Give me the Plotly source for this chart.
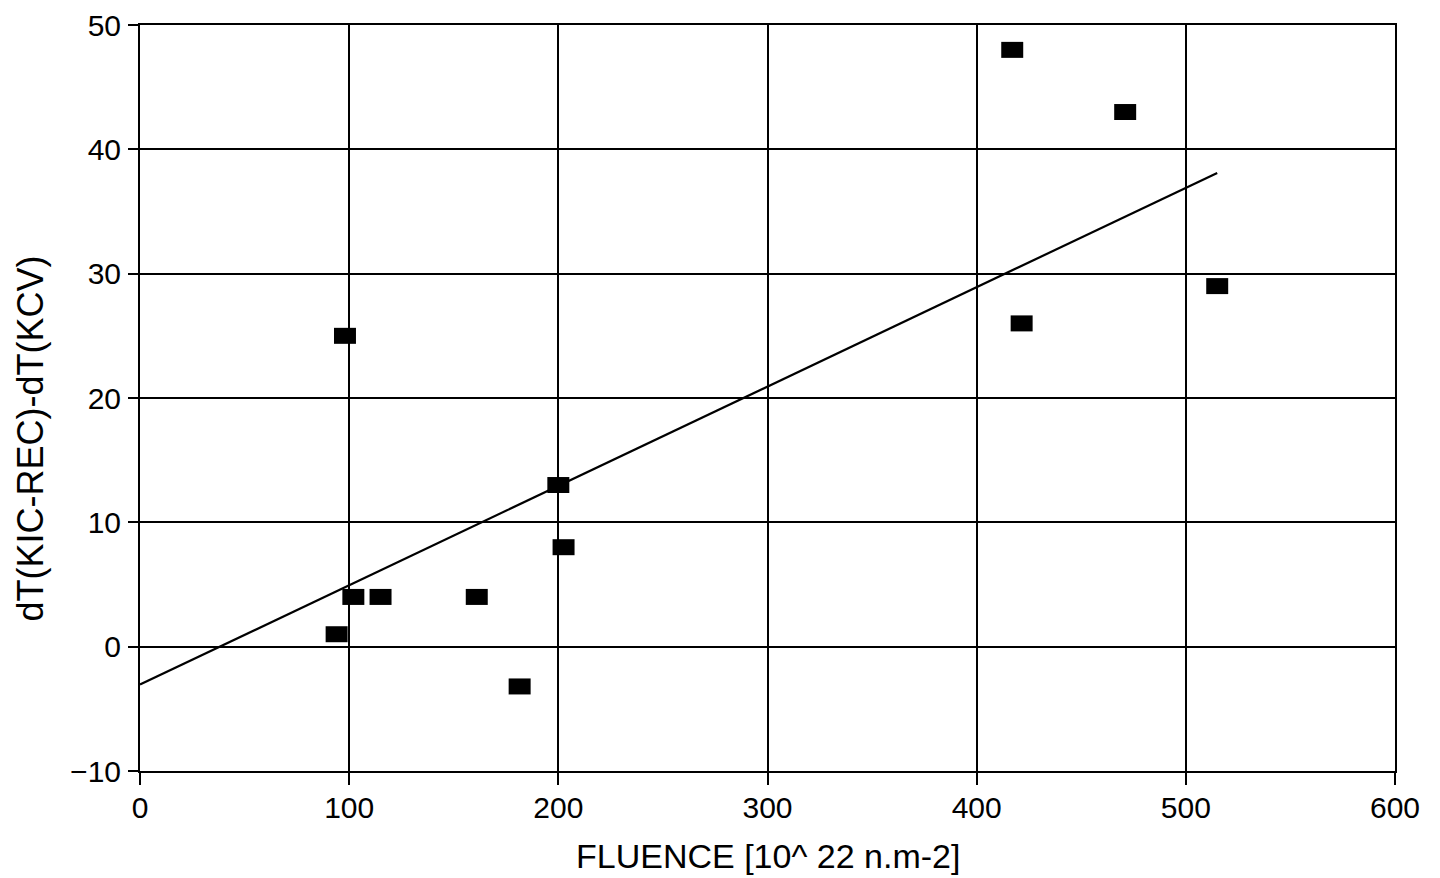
import plotly.graph_objects as go

# Data
fluence = [417, 471, 515, 421.5, 98, 200, 202.5, 102, 115, 161, 94, 181.5]
delta_t = [48, 43, 29, 26, 25, 13, 8, 4, 4, 4, 1, -3.2]

fit_x = [0, 515]
fit_y = [-3.05, 38.1]

x_ticks = [0, 100, 200, 300, 400, 500, 600]
y_ticks = [-10, 0, 10, 20, 30, 40, 50]

x_title = "FLUENCE [10^ 22 n.m-2]"
y_title = "dT(KIC-REC)-dT(KCV)"

FONT = "Liberation Sans, Arial, Helvetica, sans-serif"

fig = go.Figure()

fig.add_trace(go.Scatter(
    x=fit_x, y=fit_y, mode="lines",
    line=dict(color="black", width=2.2),
    showlegend=False, hoverinfo="skip",
))

fig.add_trace(go.Scatter(
    x=fluence, y=delta_t, mode="markers",
    marker=dict(symbol="line-ew", size=15.7, color="black",
                line=dict(color="black", width=16)),
    showlegend=False,
))

axis_common = dict(
    showline=True, linecolor="black", linewidth=2, mirror=True,
    showgrid=True, gridcolor="black", gridwidth=2,
    zeroline=False, automargin=False, ticklabeloverflow="allow",
    ticks="outside", tickcolor="black", tickwidth=2,
    tickfont=dict(family=FONT, size=30, color="black"),
)

fig.update_xaxes(range=[0, 600], tickvals=x_ticks, ticklen=12,
                 ticklabelstandoff=-3, **axis_common)
fig.update_yaxes(range=[-10, 50], tickvals=y_ticks, ticklen=10,
                 ticklabelstandoff=1, **axis_common)

fig.add_annotation(
    text=x_title, xref="paper", yref="paper", x=0.5, y=-0.114,
    xanchor="center", yanchor="middle", showarrow=False,
    font=dict(family=FONT, size=34, color="black"),
)
fig.add_annotation(
    text=y_title, xref="paper", yref="paper", x=-0.088, y=0.445,
    xanchor="center", yanchor="middle", showarrow=False, textangle=-90,
    font=dict(family=FONT, size=36, color="black"),
)

fig.update_layout(
    width=1432, height=870,
    margin=dict(l=132, r=45, t=17, b=107),
    paper_bgcolor="white", plot_bgcolor="white",
)

fig.write_html("out.html")
